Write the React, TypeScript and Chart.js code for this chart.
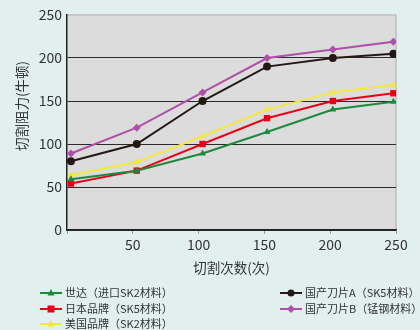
import React, { useEffect, useRef } from "react";
import { Chart, registerables } from "chart.js";

Chart.register(...registerables);

const cuts = [3, 53, 103, 152, 202, 248];
const shidaValues = [59, 69, 89, 114, 140, 149];
const japanValues = [54, 69, 100, 130, 150, 159];
const usaValues = [64, 79, 109, 140, 160, 169];
const domesticAValues = [80, 100, 150, 190, 200, 205];
const domesticBValues = [89, 119, 160, 200, 210, 219];

const seriesLabels = [
  "世达（进口SK2材料）",
  "日本品牌（SK5材料）",
  "美国品牌（SK2材料）",
  "国产刀片A（SK5材料）",
  "国产刀片B（锰钢材料）",
];
const xTitle = "切割次数(次)";
const yTitle = "切割阻力(牛顿)";

const FONT = "'Noto Sans CJK SC', 'Noto Sans', sans-serif";

const bgPlugin = {
  id: "bgPlugin",
  beforeDraw(chart: any) {
    const { ctx, chartArea } = chart;
    ctx.save();
    ctx.fillStyle = "#e1f0ee";
    ctx.fillRect(0, 0, chart.width, chart.height);
    ctx.fillStyle = "#dcdcdc";
    ctx.fillRect(chartArea.left, chartArea.top, chartArea.right - chartArea.left, chartArea.bottom - chartArea.top);
    ctx.strokeStyle = "#bdbdbd";
    ctx.lineWidth = 1.5;
    ctx.beginPath();
    ctx.moveTo(chartArea.left, chartArea.top);
    ctx.lineTo(chartArea.right, chartArea.top);
    ctx.lineTo(chartArea.right, chartArea.bottom);
    ctx.stroke();
    ctx.restore();
  },
};

const yTitlePlugin = {
  id: "yTitlePlugin",
  afterDraw(chart: any) {
    const { ctx } = chart;
    ctx.save();
    ctx.translate(22, 106);
    ctx.rotate(-Math.PI / 2);
    ctx.fillStyle = "#333333";
    ctx.font = "13.5px " + FONT;
    ctx.textAlign = "center";
    ctx.textBaseline = "middle";
    ctx.fillText(yTitle, 0, 0);
    ctx.restore();
  },
};

const legendPlugin = {
  id: "columnLegend",
  afterDraw(chart: any) {
    const { ctx } = chart;
    const slots = [
      { x: 40, y: 293 },
      { x: 40, y: 309 },
      { x: 40, y: 324 },
      { x: 280, y: 293 },
      { x: 280, y: 309 },
    ];
    ctx.save();
    chart.data.datasets.forEach((ds: any, i: number) => {
      const s = slots[i];
      ctx.strokeStyle = ds.borderColor;
      ctx.lineWidth = 2;
      ctx.beginPath();
      ctx.moveTo(s.x, s.y);
      ctx.lineTo(s.x + 22, s.y);
      ctx.stroke();
      ctx.fillStyle = ds.backgroundColor;
      const cx = s.x + 11;
      const cy = s.y;
      const r = 3.5;
      ctx.beginPath();
      if (ds.pointStyle === "triangle") {
        ctx.moveTo(cx, cy - r - 0.5);
        ctx.lineTo(cx + r, cy + r - 1);
        ctx.lineTo(cx - r, cy + r - 1);
        ctx.closePath();
      } else if (ds.pointStyle === "rect") {
        ctx.rect(cx - r, cy - r, 2 * r, 2 * r);
      } else if (ds.pointStyle === "rectRot") {
        ctx.moveTo(cx, cy - r - 0.5);
        ctx.lineTo(cx + r + 0.5, cy);
        ctx.lineTo(cx, cy + r + 0.5);
        ctx.lineTo(cx - r - 0.5, cy);
        ctx.closePath();
      } else {
        ctx.arc(cx, cy, r, 0, Math.PI * 2);
      }
      ctx.fill();
      ctx.fillStyle = "#333333";
      ctx.font = "11px " + FONT;
      ctx.textBaseline = "middle";
      ctx.textAlign = "left";
      ctx.fillText(ds.label, s.x + 25, s.y);
    });
    ctx.restore();
  },
};

function makeData(values: number[]) {
  return cuts.map((x, i) => ({ x, y: values[i] }));
}

export default function App() {
  const ref = useRef<HTMLCanvasElement>(null);
  useEffect(() => {
    document.body.style.margin = "0";
    const canvas = ref.current!;
    const series = [
      { values: shidaValues, color: "#1b8a3c", style: "triangle", radius: 4 },
      { values: japanValues, color: "#e60018", style: "rect", radius: 4.5 },
      { values: usaValues, color: "#f3e740", style: "triangle", radius: 4 },
      { values: domesticAValues, color: "#231815", style: "circle", radius: 4 },
      { values: domesticBValues, color: "#b04fa8", style: "rectRot", radius: 4 },
    ];
    const chart = new Chart(canvas, {
      type: "line",
      data: {
        datasets: series.map((s, i) => ({
          label: seriesLabels[i],
          data: makeData(s.values),
          borderColor: s.color,
          backgroundColor: s.color,
          pointStyle: s.style,
          pointRadius: s.radius,
          pointBorderWidth: 0,
          borderWidth: 2,
          tension: 0,
        })),
      },
      options: {
        animation: false,
        responsive: false,
        maintainAspectRatio: false,
        layout: { padding: { left: 14, right: 24, top: 15, bottom: 54 } },
        plugins: {
          legend: { display: false },
          tooltip: { enabled: false },
        },
        scales: {
          x: {
            type: "linear",
            min: 0,
            max: 250,
            afterFit: (scale: any) => {
              scale.height = 46;
            },
            ticks: {
              stepSize: 50,
              color: "#333333",
              font: { size: 14, family: FONT },
              padding: 2,
              maxRotation: 0,
              callback: (v: any) => (v === 0 ? "" : String(v)),
            },
            grid: {
              drawOnChartArea: false,
              drawTicks: true,
              tickLength: 4,
              color: "#999999",
            },
            border: { color: "#222222", width: 1.5 },
            title: {
              display: true,
              text: xTitle,
              color: "#333333",
              font: { size: 13.5, family: FONT },
              padding: { top: 0, bottom: 0 },
            },
          },
          y: {
            min: 0,
            max: 250,
            afterFit: (scale: any) => {
              scale.width = 53;
            },
            ticks: {
              stepSize: 50,
              color: "#333333",
              font: { size: 14, family: FONT },
              padding: 5,
            },
            grid: {
              drawTicks: false,
              color: (c: any) => (c.tick && c.tick.value === 250 ? "rgba(0,0,0,0)" : "#2a2a2a"),
              lineWidth: 1,
            },
            border: { color: "#222222", width: 1.5 },
            title: { display: false },
          },
        },
      } as any,
      plugins: [bgPlugin, yTitlePlugin, legendPlugin],
    });
    return () => chart.destroy();
  }, []);
  return <canvas ref={ref} width={420} height={330} style={{ display: "block", width: 420, height: 330 }} />;
}
